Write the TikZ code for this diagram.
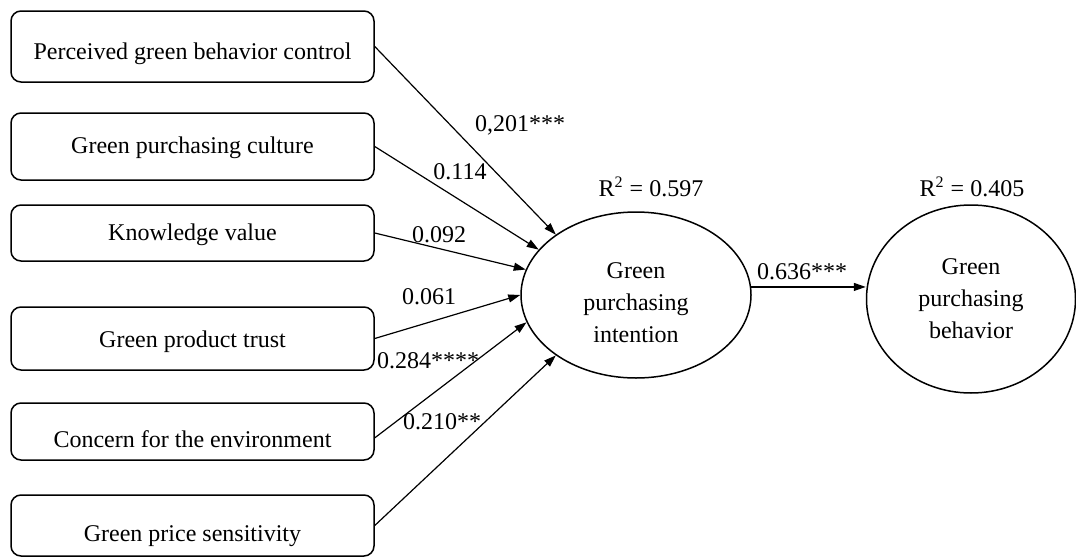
\documentclass[tikz,border=0pt]{standalone}
\usepackage{fontspec}
\setmainfont{Liberation Serif}
\usepackage{tikz}
\usetikzlibrary{shapes,arrows.meta}

\begin{document}
\begin{tikzpicture}[x=0.5pt,y=-0.5pt,
        every node/.style={font=\fontsize{12}{16}\selectfont},
        factor/.style={draw,rounded corners=5pt,line width=0.75pt,minimum width=181.5pt,inner ysep=0pt,text depth=2.6pt,text height=#1},
        factor/.default=10pt,
        latent/.style={draw,ellipse,line width=0.75pt,align=center,inner sep=0pt},
        coef/.style={inner sep=1pt},
        effect/.style={-{Triangle[length=6pt,width=4pt]},line width=0.6pt}]
            \useasboundingbox (0,0) rectangle (1076,557);

            \node[factor=15.6pt,minimum height=35.5pt] (pgbc) at (192.5,46.5) {Perceived green behavior control};
            \node[factor,minimum height=33.5pt] (gpc) at (192.5,146.5) {Green purchasing culture};
            \node[factor,minimum height=28pt] (kv) at (192.5,233) {Knowledge value};
            \node[factor=12pt,minimum height=31.5pt] (gpt) at (192.5,338.5) {Green product trust};
            \node[factor=19pt,minimum height=28.5pt] (cfe) at (192.5,431.5) {Concern for the environment};
            \node[factor=19pt,minimum height=30.5pt] (gps) at (192.5,525.5) {Green price sensitivity};

            \node[latent,minimum width=115pt,minimum height=83pt,text height=47pt,text depth=0pt] (gpi) at (636,295) {Green\\purchasing\\intention};
            \node[latent,minimum width=104.5pt,minimum height=94pt] (gpb) at (971,299) {Green\\purchasing\\behavior};
            \node[coef] (r2i) at (651,187) {R\textsuperscript{2} = 0.597};
            \node[coef] (r2b) at (972,187) {R\textsuperscript{2} = 0.405};

            \draw[effect] (pgbc.east) -- (gpi.143);
            \draw[effect] (gpc.east) -- (gpi.155);
            \draw[effect] (kv.east) -- (gpi.167);
            \draw[effect] (gpt.east) -- (gpi.180);
            \draw[effect] (cfe.358) -- (gpi.194);
            \draw[effect] (gps.east) -- (gpi.217);
            \draw[effect] (gpi.4) -- (gpi.4 -| gpb.west);

            \node[coef] (c1) at (520,125) {0,201***};
            \node[coef] (c2) at (460,172) {0.114};
            \node[coef] (c3) at (439,235) {0.092};
            \node[coef] (c4) at (429,297) {0.061};
            \node[coef] (c5) at (428,361) {0.284****};
            \node[coef] (c6) at (442,422) {0.210**};
            \node[coef] (c7) at (802,272) {0.636***};
        \end{tikzpicture}
\end{document}
